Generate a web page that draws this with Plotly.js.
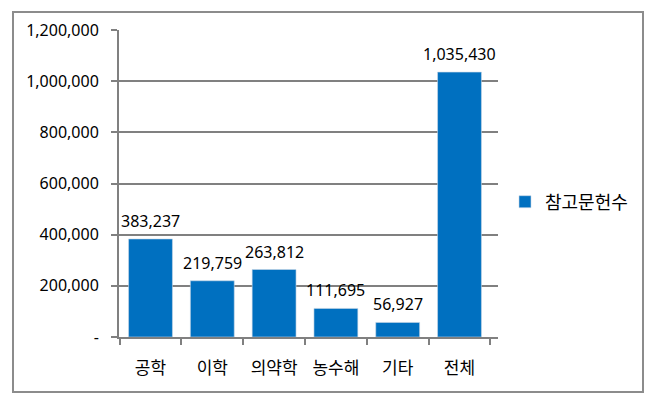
<!DOCTYPE html>
<html>
<head>
<meta charset="utf-8">
<script src="https://cdn.plot.ly/plotly-3.0.1.min.js"></script>
<style>
  body { margin: 0; background: #fff; }
  #chart { width: 655px; height: 403px; }
</style>
</head>
<body>
<div id="chart"></div>
<script>
    const categories = ['공학', '이학', '의약학', '농수해', '기타', '전체'];
    const refCounts = [383237, 219759, 263812, 111695, 56927, 1035430];
    const yTicks = [0, 200000, 400000, 600000, 800000, 1000000, 1200000];
    const yTickText = ['-', '200,000', '400,000', '600,000', '800,000', '1,000,000', '1,200,000'];

    const W = 655, H = 403;
    const margin = {l: 119, r: 157, t: 30, b: 66};
    const plotW = W - margin.l - margin.r;
    const plotH = H - margin.t - margin.b;

    // pixel -> paper coords
    const px = v => (v - margin.l) / plotW;
    const py = v => 1 - (v - margin.t) / plotH;

    const numFont = '"Noto Sans", sans-serif';
    const korFont = '"Noto Sans CJK KR", sans-serif';

    let data = [
        {
            x: categories,
            y: refCounts,
            type: 'bar',
            name: '참고문헌수',
            marker: {
                color: '#0070C0',
                line: {color: '#c9d6e6', width: 0.6}
            },
            hoverinfo: 'none'
        }
    ];

    // value labels above bars
    let labels = categories.map((c, i) => ({
        x: c,
        y: refCounts[i],
        xref: 'x', yref: 'y',
        text: refCounts[i].toLocaleString('en-US'),
        showarrow: false,
        yanchor: 'bottom',
        yshift: 5,
        font: {size: 16, color: '#000', family: numFont}
    }));

    let layout = {
        width: W,
        height: H,
        margin: margin,
        paper_bgcolor: '#fff',
        plot_bgcolor: '#fff',
        bargap: 0.29,
        showlegend: true,
        legend: {
            x: px(505),
            y: py(202),
            yanchor: 'middle',
            xanchor: 'left',
            font: {size: 18, color: '#000', family: korFont},
            itemwidth: 30
        },
        annotations: labels,
        xaxis: {
            type: 'category',
            showline: true,
            linecolor: '#808080',
            linewidth: 2,
            ticks: 'outside',
            tickson: 'boundaries',
            ticklen: 6,
            tickwidth: 2,
            tickcolor: '#808080',
            ticklabelstandoff: 15,
            showgrid: false,
            tickfont: {size: 17, color: '#000', family: korFont}
        },
        yaxis: {
            range: [0, 1200000],
            tickvals: yTicks,
            ticktext: yTickText,
            showline: true,
            linecolor: '#808080',
            linewidth: 2,
            ticks: 'outside',
            ticklen: 6,
            tickwidth: 2,
            tickcolor: '#808080',
            ticklabelstandoff: 9,
            showgrid: true,
            gridcolor: '#808080',
            gridwidth: 2,
            zeroline: false,
            tickfont: {size: 16, color: '#000', family: numFont}
        },
        shapes: [
            {
                type: 'rect',
                xref: 'paper', yref: 'paper',
                x0: px(13), x1: px(643),
                y0: py(392), y1: py(12),
                line: {color: '#8c8c8c', width: 2},
                layer: 'below'
            }
        ]
    };

    Plotly.newPlot('chart', data, layout, {displayModeBar: false, staticPlot: true});
</script>
</body>
</html>
